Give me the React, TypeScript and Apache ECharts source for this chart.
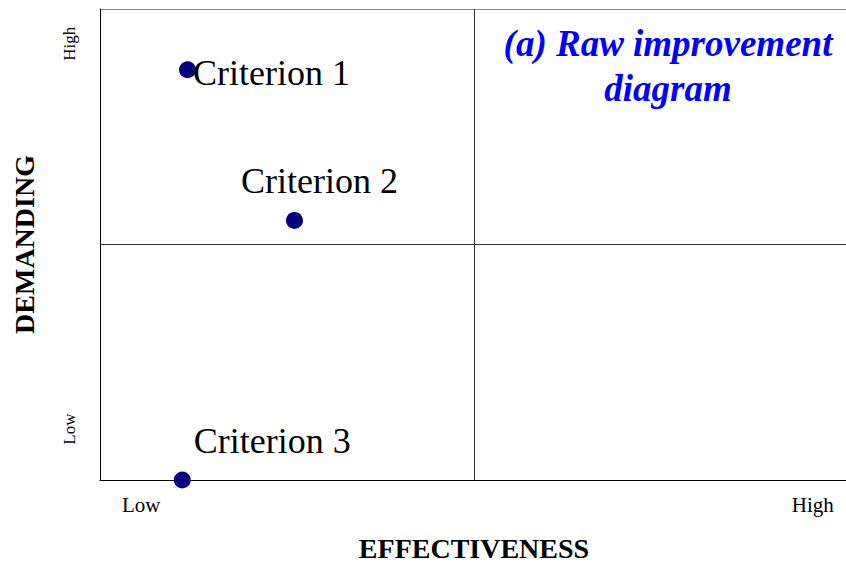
import React, { useEffect, useRef } from "react";
import * as echarts from "echarts";

const criteria = ["Criterion 1", "Criterion 2", "Criterion 3"];
const effectiveness = [0.117, 0.26, 0.11];
const demanding = [0.871, 0.551, 0.0];
const xTickLabels = ["Low", "High"];
const xTickValues = [0.055, 0.953];
const yTickLabels = ["Low", "High"];
const yTickValues = [0.108, 0.926];
const titleLines = ["(a) Raw improvement", "diagram"];

const FONT = "'Liberation Serif', 'Times New Roman', serif";

export default function App() {
  const ref = useRef<HTMLDivElement>(null);
  useEffect(() => {
    document.body.style.margin = "0";
    const chart = echarts.init(ref.current!, null, { renderer: "svg" });
    const labelOffsets: [number, number][] = [
      [84, 3],
      [25, -39],
      [90, -39],
    ];
    chart.setOption({
      animation: false,
      backgroundColor: "#ffffff",
      grid: { left: 100, right: -2, top: 9, bottom: 82, outerBoundsMode: "none", containLabel: false },
      xAxis: {
        type: "value",
        min: 0,
        max: 1,
        interval: 0.5,
        name: "EFFECTIVENESS",
        nameLocation: "middle",
        nameGap: 55,
        nameTextStyle: { fontFamily: FONT, fontSize: 28, fontWeight: "bold", color: "#000", lineHeight: 26 },
        axisLine: { show: true, lineStyle: { color: "#000", width: 1 } },
        axisTick: { show: false },
        axisLabel: {
          customValues: xTickValues,
          formatter: (v: number) => {
            const i = xTickValues.findIndex((t) => Math.abs(t - v) < 1e-6);
            return i >= 0 ? xTickLabels[i] : "";
          },
          fontFamily: FONT,
          fontSize: 21,
          color: "#000",
          margin: 14,
        },
        splitLine: { show: true, lineStyle: { color: ["#000", "#333", "#333"], width: 1 } },
      },
      yAxis: {
        type: "value",
        min: 0,
        max: 1,
        interval: 0.5,
        name: "DEMANDING",
        nameLocation: "middle",
        nameGap: 62,
        nameTextStyle: { fontFamily: FONT, fontSize: 28, fontWeight: "bold", color: "#000" },
        axisLine: { show: true, lineStyle: { color: "#000", width: 1 } },
        axisTick: { show: false },
        axisLabel: {
          customValues: yTickValues,
          formatter: (v: number) => {
            const i = yTickValues.findIndex((t) => Math.abs(t - v) < 1e-6);
            return i >= 0 ? yTickLabels[i] : "";
          },
          rotate: 90,
          fontFamily: FONT,
          fontSize: 17,
          color: "#000",
          margin: 22,
        },
        splitLine: { show: true, lineStyle: { color: ["#000", "#333", "#888"], width: 1 } },
      },
      graphic: [
        {
          type: "text",
          x: 668,
          y: 21,
          style: {
            text: titleLines.join("\n"),
            fontFamily: FONT,
            fontSize: 37,
            fontWeight: "bold",
            fontStyle: "italic",
            fill: "#0000ff",
            textAlign: "center",
            lineHeight: 45,
          },
        },
      ],
      series: [
        {
          type: "scatter",
          symbol: "circle",
          symbolSize: 17,
          clip: false,
          itemStyle: { color: "#000080", opacity: 1 },
          data: criteria.map((name, i) => ({
            name,
            value: [effectiveness[i], demanding[i]],
            label: {
              show: true,
              position: "inside",
              offset: labelOffsets[i],
              formatter: name,
              fontFamily: FONT,
              fontSize: 36,
              color: "#000",
              opacity: 1,
            },
          })),
        },
      ],
    });
    return () => chart.dispose();
  }, []);
  return (
    <div
      ref={ref}
      style={{ position: "absolute", left: 0, top: 0, width: 846, height: 562 }}
    />
  );
}
